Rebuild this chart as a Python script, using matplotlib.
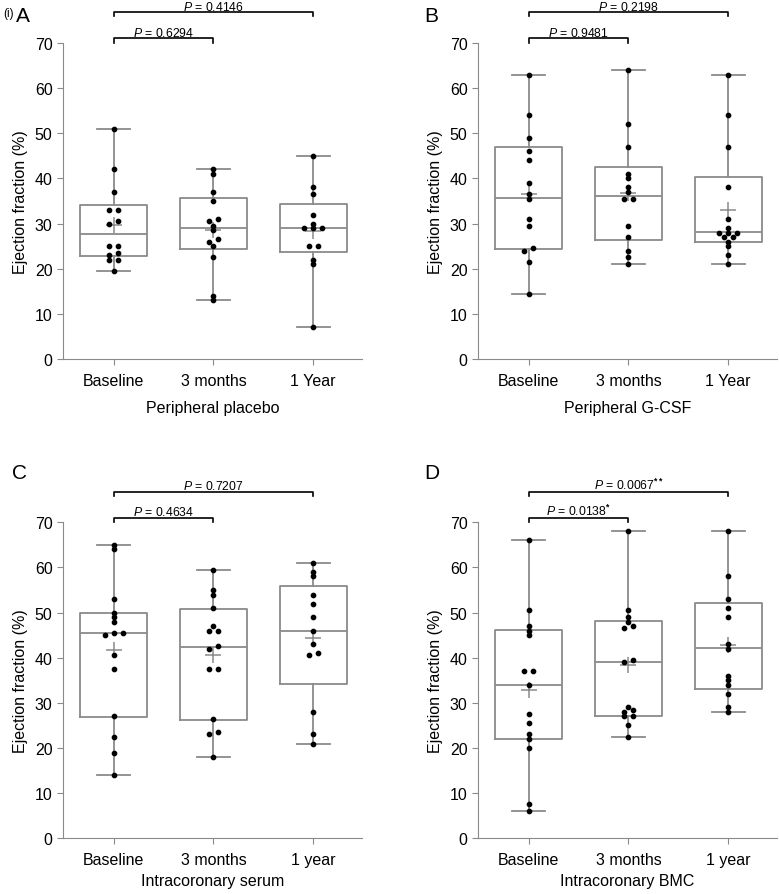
import matplotlib
matplotlib.use("Agg")
import matplotlib.pyplot as plt
import numpy as np

plt.rcParams.update({
    "font.family": ["Liberation Sans", "DejaVu Sans"],
    "font.size": 11,
    "mathtext.fontset": "custom",
    "mathtext.rm": "Liberation Sans",
    "mathtext.it": "Liberation Sans:italic",
    "mathtext.bf": "Liberation Sans:bold",
})

GREY = "#8a8a8a"

# ---------------- data (ejection fraction, %) ----------------
tp_upper = ["Baseline", "3 months", "1 Year"]
tp_lower = ["Baseline", "3 months", "1 year"]

a_points = [
    [51, 42, 37, 33, 33, 30.5, 30, 25, 25, 23.5, 23, 22, 22, 19.5],
    [42, 41, 37, 35, 31, 30.5, 29.5, 28.5, 26.5, 26, 25, 22.5, 14, 13],
    [45, 38, 36.5, 32, 30, 29, 29, 29, 25, 25, 22, 21, 7],
]
a_q1 = [22.8, 24.4, 23.6]
a_med = [27.6, 29.1, 29.1]
a_q3 = [34.1, 35.6, 34.4]

b_points = [
    [63, 54, 49, 46, 44, 39, 36.5, 35.5, 31, 29.5, 24.5, 24, 21.5, 14.5],
    [64, 52, 47, 41, 40, 38, 37, 35.5, 35.5, 29.5, 27, 24, 22.5, 21],
    [63, 54, 47, 38, 31, 29, 28, 28, 28, 27, 27, 26, 25, 23, 21],
]
b_q1 = [24.4, 26.3, 25.9]
b_med = [35.6, 36.1, 28.1]
b_q3 = [46.9, 42.6, 40.3]

c_points = [
    [65, 64, 53, 50, 49, 48, 45.5, 45.5, 45, 40.5, 37.5, 27, 22.5, 19, 14],
    [59.5, 55, 54, 51, 47, 46, 46, 42.5, 42, 37.5, 37.5, 26.5, 23.5, 23, 18],
    [61, 59, 58, 54, 52, 49, 46, 43, 41, 40.5, 28, 23, 21],
]
c_q1 = [26.9, 26.3, 34.1]
c_med = [45.4, 42.3, 45.9]
c_q3 = [49.9, 50.9, 56.0]

d_points = [
    [66, 50.5, 47, 46, 45, 37, 37, 34, 27.5, 25.5, 23, 22, 20, 7.5, 6],
    [68, 50.5, 49, 48, 47, 46.5, 39.5, 39, 29, 28.5, 28, 27, 27, 25, 22.5],
    [68, 58, 53, 51, 49, 43, 42, 36, 35, 34, 32, 29, 28],
]
d_q1 = [22.0, 27.0, 33.0]
d_med = [34.0, 39.0, 42.1]
d_q3 = [46.1, 48.1, 52.1]

p_inner = [r"$\it{P}$ = 0.6294", r"$\it{P}$ = 0.9481",
           r"$\it{P}$ = 0.4634", r"$\it{P}$ = 0.0138$^{\bf{*}}$"]
p_outer = [r"$\it{P}$ = 0.4146", r"$\it{P}$ = 0.2198",
           r"$\it{P}$ = 0.7207", r"$\it{P}$ = 0.0067$^{\bf{**}}$"]
groups = ["Peripheral placebo", "Peripheral G-CSF",
          "Intracoronary serum", "Intracoronary BMC"]


def jitter(vals, step=0.09, tol=0.8):
    vals = np.asarray(vals, dtype=float)
    order = np.argsort(vals)
    offs = np.zeros(len(vals))
    i = 0
    while i < len(order):
        j = i
        while j + 1 < len(order) and vals[order[j + 1]] - vals[order[i]] < tol:
            j += 1
        k = j - i + 1
        offs[order[i:j + 1]] = (np.arange(k) - (k - 1) / 2) * step
        i = j + 1
    return offs


def panel(ax, points, q1, med, q3, labels, xlabel, p1, p2, xlabel_pad):
    stats = []
    for pts, lo, m, hi in zip(points, q1, med, q3):
        stats.append(dict(med=m, q1=lo, q3=hi, whislo=min(pts), whishi=max(pts),
                          mean=np.mean(pts), fliers=[]))
    pos = np.arange(len(stats))
    ax.bxp(stats, positions=pos, widths=0.67, showmeans=True, showfliers=False,
           boxprops=dict(color=GREY, lw=1.3),
           medianprops=dict(color=GREY, lw=1.3),
           whiskerprops=dict(color=GREY, lw=1.3),
           capprops=dict(color=GREY, lw=1.3), capwidths=0.33,
           meanprops=dict(marker="+", markeredgecolor=GREY, markersize=11,
                          markeredgewidth=1.1))
    for x, pts in zip(pos, points):
        ax.plot(x + jitter(pts), pts, "o", color="black", markersize=3.1, zorder=5)

    ax.set_xlim(-0.51, 2.49)
    ax.set_ylim(0, 70)
    ax.set_yticks(range(0, 71, 10))
    ax.set_xticks(pos)
    ax.set_xticklabels(labels, fontsize=11.5)
    ax.set_ylabel("Ejection fraction (%)", fontsize=11.5, labelpad=5)
    ax.set_xlabel(xlabel, fontsize=11.5, labelpad=xlabel_pad)
    for s in ["top", "right"]:
        ax.spines[s].set_visible(False)
    for s in ["left", "bottom"]:
        ax.spines[s].set_color(GREY)
    ax.tick_params(axis="both", colors=GREY, labelcolor="black", labelsize=11.5,
                   length=4)
    ax.tick_params(axis="x", pad=6)

    # significance brackets above the plot
    for x2, y, txt in [(1, 71.0, p1), (2, 76.8, p2)]:
        ax.plot([0, 0, x2, x2], [y - 0.9, y, y, y - 0.9], color="black",
                lw=1.2, clip_on=False)
        ax.text(x2 / 2, y - 0.1, txt, ha="center", va="bottom", fontsize=8.8,
                clip_on=False)


fig = plt.figure(figsize=(7.79, 8.95), dpi=100)
W, H = 779, 895
boxes = [
    (63, 362, 44, 360),
    (478, 777, 44, 360),
    (63, 362, 523.3, 839.3),
    (478, 777, 523.3, 839.3),
]
datasets = [
    (a_points, a_q1, a_med, a_q3, tp_upper),
    (b_points, b_q1, b_med, b_q3, tp_upper),
    (c_points, c_q1, c_med, c_q3, tp_lower),
    (d_points, d_q1, d_med, d_q3, tp_lower),
]
for i, ((l, r, t, b), (pts, q1, med, q3, labs)) in enumerate(zip(boxes, datasets)):
    ax = fig.add_axes([l / W, 1 - b / H, (r - l) / W, (b - t) / H])
    pad = 9 if i < 2 else 4
    panel(ax, pts, q1, med, q3, labs, groups[i], p_inner[i], p_outer[i], pad)

# panel letters
fig.text(3 / W, 1 - 14 / H, "(i)", fontsize=8.5, ha="left", va="center")
fig.text(16 / W, 1 - 17 / H, "A", fontsize=15, ha="left", va="center")
fig.text(424 / W, 1 - 16 / H, "B", fontsize=15, ha="left", va="center")
fig.text(12 / W, 1 - 474 / H, "C", fontsize=15, ha="left", va="center")
fig.text(424 / W, 1 - 474 / H, "D", fontsize=15, ha="left", va="center")

fig.savefig("out.png", dpi=100)
